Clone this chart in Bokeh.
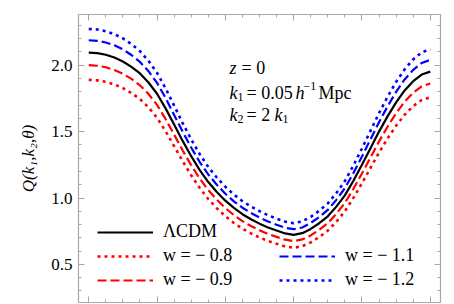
from bokeh.plotting import figure
from bokeh.models import (Range1d, LinearAxis, FixedTicker, Legend, LegendItem, Label,
                          PrintfTickFormatter)
from bokeh.embed import file_html
from bokeh.resources import INLINE

# ---- data ----
theta = [0.0, 0.025, 0.05, 0.075, 0.1, 0.125, 0.15, 0.175, 0.2, 0.225,
         0.25, 0.275, 0.3, 0.325, 0.35, 0.375, 0.4, 0.425, 0.45, 0.475,
         0.5, 0.525, 0.55, 0.575, 0.6, 0.625, 0.65, 0.675, 0.7, 0.725,
         0.75, 0.775, 0.8, 0.825, 0.85, 0.875, 0.9, 0.925, 0.95, 0.975, 1.0]

q_lcdm = [2.095, 2.091, 2.079, 2.058, 2.028, 1.988, 1.938, 1.870, 1.785, 1.675,
          1.553, 1.430, 1.315, 1.210, 1.120, 1.045, 0.980, 0.925, 0.878, 0.840,
          0.807, 0.778, 0.755, 0.733, 0.722, 0.735, 0.767, 0.810, 0.862, 0.935,
          1.020, 1.130, 1.250, 1.375, 1.500, 1.615, 1.720, 1.810, 1.880, 1.930, 1.952]

q_w08 = [1.890, 1.886, 1.875, 1.856, 1.828, 1.791, 1.745, 1.683, 1.604, 1.503,
         1.391, 1.277, 1.171, 1.075, 0.992, 0.923, 0.863, 0.812, 0.769, 0.734,
         0.703, 0.677, 0.655, 0.635, 0.625, 0.637, 0.666, 0.706, 0.754, 0.821,
         0.900, 1.001, 1.111, 1.227, 1.342, 1.448, 1.544, 1.627, 1.692, 1.738, 1.758]

q_w09 = [2.000, 1.996, 1.985, 1.964, 1.935, 1.897, 1.849, 1.783, 1.701, 1.595,
         1.477, 1.358, 1.247, 1.146, 1.059, 0.987, 0.924, 0.871, 0.826, 0.789,
         0.757, 0.729, 0.707, 0.686, 0.675, 0.688, 0.718, 0.760, 0.810, 0.881,
         0.963, 1.069, 1.185, 1.305, 1.426, 1.537, 1.638, 1.725, 1.793, 1.841, 1.862]

q_w11 = [2.188, 2.184, 2.171, 2.150, 2.119, 2.077, 2.025, 1.955, 1.867, 1.753,
         1.626, 1.499, 1.380, 1.271, 1.177, 1.100, 1.032, 0.975, 0.927, 0.887,
         0.853, 0.823, 0.799, 0.776, 0.765, 0.778, 0.812, 0.856, 0.910, 0.986,
         1.074, 1.188, 1.312, 1.442, 1.571, 1.690, 1.799, 1.893, 1.965, 2.017, 2.040]

q_w12 = [2.273, 2.269, 2.256, 2.234, 2.202, 2.159, 2.106, 2.033, 1.943, 1.826,
         1.696, 1.564, 1.442, 1.330, 1.234, 1.154, 1.085, 1.026, 0.976, 0.936,
         0.901, 0.870, 0.845, 0.822, 0.810, 0.824, 0.858, 0.904, 0.959, 1.037,
         1.128, 1.245, 1.373, 1.506, 1.639, 1.762, 1.874, 1.969, 2.044, 2.097, 2.121]

x_major = [0.0, 0.2, 0.4, 0.6, 0.8, 1.0]
x_minor = [0.05, 0.1, 0.15, 0.25, 0.3, 0.35, 0.45, 0.5, 0.55, 0.65, 0.7, 0.75,
           0.85, 0.9, 0.95]
y_major = [0.5, 1.0, 1.5, 2.0]
y_minor = [0.3, 0.4, 0.6, 0.7, 0.8, 0.9, 1.1, 1.2, 1.3, 1.4, 1.6, 1.7, 1.8, 1.9,
           2.1, 2.2, 2.3]

SERIF = "Liberation Serif"
GRAY = "#a8a8a8"

p = figure(width=454, height=304,
           x_range=Range1d(-0.03, 1.03), y_range=Range1d(0.213, 2.382),
           output_backend="svg", toolbar_location=None,
           min_border_left=78, min_border_right=14, min_border_top=14,
           min_border_bottom=2)
p.xgrid.visible = False
p.ygrid.visible = False
p.outline_line_color = GRAY
p.outline_line_width = 1.2
p.background_fill_color = "white"
p.border_fill_color = "white"


def style_axis(ax, ticks, minor, show_labels):
    ax.ticker = FixedTicker(ticks=ticks, minor_ticks=minor)
    ax.axis_line_color = None
    ax.major_tick_line_color = GRAY
    ax.minor_tick_line_color = GRAY
    ax.major_tick_in = 6
    ax.major_tick_out = 0
    ax.minor_tick_in = 3
    ax.minor_tick_out = 0
    if show_labels:
        ax.major_label_text_font = SERIF
        ax.major_label_text_font_size = "17px"
        ax.major_label_text_color = "black"
        ax.major_label_standoff = 6
        ax.formatter = PrintfTickFormatter(format="%.1f")
    else:
        ax.major_label_text_font_size = "0px"
        ax.major_label_text_color = None
        ax.major_label_standoff = 0


style_axis(p.xaxis[0], x_major, x_minor, False)
style_axis(p.yaxis[0], y_major, y_minor, True)
p.yaxis.axis_label = "Q(k\u2081,k\u2082,\u03b8)"
p.yaxis.axis_label_text_font = SERIF
p.yaxis.axis_label_text_font_style = "italic"
p.yaxis.axis_label_text_font_size = "17px"
p.yaxis.axis_label_text_color = "black"
p.yaxis.axis_label_standoff = 10

top_ax = LinearAxis()
style_axis(top_ax, x_major, x_minor, False)
p.add_layout(top_ax, "above")
right_ax = LinearAxis()
style_axis(right_ax, y_major, y_minor, False)
p.add_layout(right_ax, "right")

r_lcdm = p.line(theta, q_lcdm, line_color="black", line_width=2.2)
r_w08 = p.line(theta, q_w08, line_color="#ff0000", line_width=2.6, line_dash="3 4")
r_w09 = p.line(theta, q_w09, line_color="#ff0000", line_width=2.2, line_dash="9 4")
r_w11 = p.line(theta, q_w11, line_color="#0000ff", line_width=2.2, line_dash="9 4")
r_w12 = p.line(theta, q_w12, line_color="#0000ff", line_width=2.6, line_dash="3 4")
# invisible placeholder so the second legend column starts one row lower
r_blank = p.line(theta[:2], q_lcdm[:2], line_alpha=0)

leg = Legend(items=[LegendItem(label="\u039bCDM", renderers=[r_lcdm]),
                    LegendItem(label="w = \u2212 0.8", renderers=[r_w08]),
                    LegendItem(label="w = \u2212 0.9", renderers=[r_w09]),
                    LegendItem(label=" ", renderers=[r_blank]),
                    LegendItem(label="w = \u2212 1.1", renderers=[r_w11]),
                    LegendItem(label="w = \u2212 1.2", renderers=[r_w12])],
             location=(19, 12), ncols=2)
leg.glyph_width = 56
leg.glyph_height = 20
leg.label_height = 20
leg.label_width = 113
leg.label_standoff = 10
leg.spacing = 3
leg.padding = 0
leg.margin = 0
leg.border_line_color = None
leg.background_fill_alpha = 0
leg.label_text_font = SERIF
leg.label_text_font_size = "18px"
leg.label_text_color = "black"
p.add_layout(leg, "center")


# annotation text: positions given in pixels of the page, converted to data
def px2x(px):
    return (px - 88.3) / 341.4


def py2y(py):
    return 2.0 - (py - 64.3) / 133.0


def txt(s, px, py, size="18px", italic=False):
    p.add_layout(Label(x=px2x(px), y=py2y(py), text=s, text_font=SERIF,
                       text_font_size=size, text_color="black",
                       text_font_style="italic" if italic else "normal",
                       text_baseline="alphabetic", text_align="left"))


txt("z", 229, 67, italic=True)
txt("= 0", 241, 67)
txt("k", 229, 92, italic=True)
txt("1", 237, 96, size="12px")
txt("= 0.05", 246, 92)
txt("h", 295, 92, italic=True)
txt("\u22121", 303, 85, size="12px")
txt("Mpc", 318, 92)
txt("k", 229, 114, italic=True)
txt("2", 237, 118, size="12px")
txt("= 2", 246, 114)
txt("k", 274, 114, italic=True)
txt("1", 282, 118, size="12px")

open("out.html", "w").write(file_html(p, INLINE))
